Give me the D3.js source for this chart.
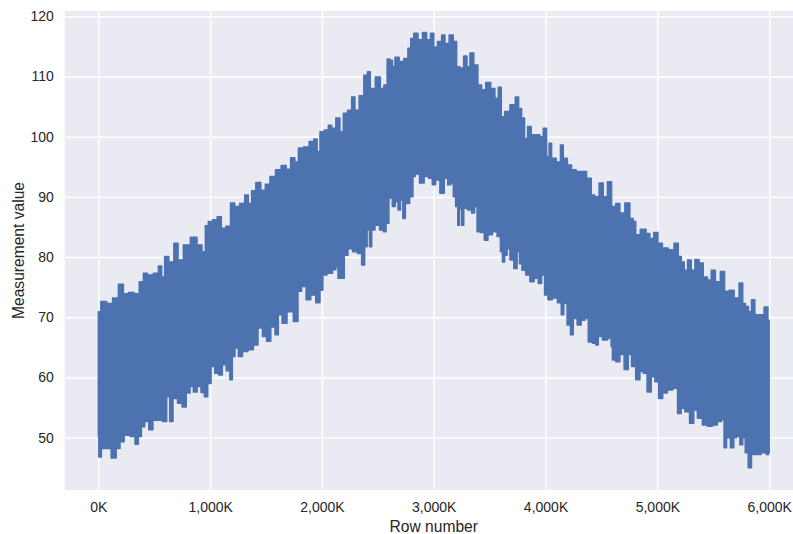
<!DOCTYPE html>
<html>
<head>
<meta charset="utf-8">
<script src="https://cdn.jsdelivr.net/npm/d3@7"></script>
<style>
  html, body { margin: 0; padding: 0; background: #fff; }
  svg { display: block; font-family: "Liberation Sans", Arial, sans-serif; }
</style>
</head>
<body>
<svg id="chart" width="793" height="534"></svg>
<script>
const upperRows = [0, 45, 105, 150, 209, 239, 299, 343, 388, 418, 462, 522, 552, 581, 605, 656, 695, 731, 790, 856,
  909, 945, 969, 999, 1043, 1082, 1118, 1162, 1202, 1237, 1291, 1327, 1356, 1386, 1431, 1476, 1511, 1559, 1610, 1660,
  1700, 1740, 1775, 1804, 1863, 1908, 1947, 1967, 1998, 2042, 2072, 2102, 2146, 2176, 2206, 2251, 2280, 2310, 2355, 2394,
  2420, 2445, 2510, 2535, 2573, 2593, 2623, 2638, 2668, 2713, 2751, 2787, 2802, 2841, 2877, 2921, 2951, 2990, 3011, 3056,
  3085, 3115, 3160, 3190, 3219, 3249, 3285, 3309, 3339, 3377, 3413, 3443, 3487, 3532, 3562, 3592, 3616, 3652, 3711, 3747,
  3771, 3800, 3824, 3854, 3890, 3934, 3965, 3994, 4024, 4039, 4069, 4122, 4144, 4173, 4218, 4248, 4300, 4337, 4397, 4421,
  4457, 4501, 4531, 4576, 4605, 4650, 4680, 4739, 4769, 4799, 4814, 4880, 4918, 4948, 4987, 5023, 5067, 5127, 5172, 5202,
  5226, 5255, 5285, 5321, 5351, 5396, 5425, 5470, 5494, 5544, 5583, 5619, 5664, 5709, 5753, 5774, 5803, 5827, 5857, 5887,
  5932, 5977, 6000];
const upperVals = [70.9, 72.6, 72.3, 73.2, 75.5, 73.9, 74.1, 73.9, 75.9, 77.3, 77.0, 77.3, 78.5, 76.7, 80.1, 79.2, 82.3, 79.5, 82.0, 83.3,
  82.0, 80.9, 85.2, 85.9, 86.2, 86.7, 84.8, 85.1, 89.0, 88.4, 88.9, 90.3, 88.9, 91.0, 92.4, 91.1, 92.1, 93.4, 94.5, 95.2,
  94.6, 96.5, 95.8, 98.1, 98.3, 99.2, 99.6, 97.5, 100.8, 101.1, 101.9, 101.4, 103.1, 100.8, 103.9, 104.4, 106.6, 104.4, 106.8, 110.2,
  110.8, 108.0, 109.9, 108.0, 108.6, 112.9, 112.7, 111.6, 113.2, 112.5, 113.0, 114.7, 116.3, 117.2, 116.1, 117.3, 116.1, 117.2, 114.9, 115.8,
  116.9, 115.5, 116.9, 115.8, 111.6, 111.4, 113.4, 111.6, 113.9, 111.9, 108.6, 107.8, 109.0, 108.0, 106.4, 108.2, 103.3, 104.2, 105.3, 106.6,
  104.7, 103.1, 99.7, 101.7, 100.3, 100.3, 100.0, 101.4, 96.7, 98.9, 96.4, 95.8, 98.6, 96.4, 95.3, 94.5, 94.2, 94.2, 93.1, 90.3,
  90.0, 92.3, 90.0, 92.5, 88.4, 88.9, 87.3, 89.0, 86.4, 85.9, 83.7, 84.6, 83.9, 83.1, 84.1, 82.3, 81.5, 81.2, 82.3, 80.1,
  79.2, 77.8, 79.5, 77.8, 79.6, 79.0, 76.7, 76.2, 77.8, 75.9, 77.6, 74.3, 74.5, 73.2, 75.7, 72.3, 71.8, 70.9, 72.9, 70.4,
  70.4, 71.7, 69.5];

const lowerRows = [0, 9, 45, 89, 140, 179, 209, 254, 313, 343, 373, 397, 433, 469, 507, 552, 597, 626, 650, 686,
  731, 767, 805, 835, 865, 903, 934, 963, 993, 1023, 1059, 1094, 1124, 1162, 1190, 1207, 1237, 1267, 1312, 1363,
  1410, 1446, 1490, 1520, 1565, 1595, 1625, 1661, 1714, 1774, 1797, 1839, 1878, 1922, 1967, 1998, 2018, 2072, 2117, 2132,
  2155, 2185, 2215, 2251, 2296, 2340, 2370, 2394, 2414, 2436, 2454, 2495, 2535, 2563, 2584, 2614, 2644, 2668, 2692, 2713,
  2734, 2758, 2811, 2817, 2853, 2892, 2937, 2972, 3002, 3031, 3079, 3109, 3139, 3169, 3181, 3210, 3219, 3240, 3258, 3279,
  3324, 3353, 3377, 3398, 3437, 3467, 3503, 3547, 3586, 3607, 3622, 3646, 3666, 3697, 3735, 3756, 3777, 3800, 3845, 3875,
  3920, 3950, 3979, 4003, 4039, 4084, 4128, 4153, 4173, 4212, 4233, 4263, 4302, 4337, 4367, 4397, 4442, 4457, 4486, 4531,
  4582, 4591, 4605, 4650, 4680, 4725, 4754, 4784, 4829, 4859, 4889, 4927, 4963, 4993, 5029, 5067, 5112, 5166, 5195, 5231,
  5261, 5315, 5336, 5380, 5425, 5470, 5514, 5559, 5589, 5604, 5634, 5673, 5694, 5723, 5753, 5774, 5798, 5827, 5857, 5902,
  5953, 5991, 6000];
const lowerVals = [50.2, 46.8, 48.2, 48.2, 46.6, 48.2, 49.3, 50.4, 50.2, 48.9, 50.2, 51.8, 52.7, 51.3, 52.9, 52.9, 52.7, 56.8, 52.7, 56.5,
  55.7, 55.1, 57.4, 58.5, 57.6, 58.5, 57.5, 56.8, 59.0, 61.8, 60.7, 60.4, 62.1, 61.1, 59.6, 63.5, 64.9, 63.5, 64.3, 64.6,
  65.4, 68.2, 66.8, 66.0, 68.4, 67.1, 70.4, 69.0, 70.9, 69.3, 74.3, 75.1, 72.9, 73.7, 72.4, 74.5, 77.0, 77.3, 77.9, 78.4,
  76.5, 76.5, 80.3, 81.4, 80.9, 80.6, 78.7, 81.7, 84.5, 81.7, 84.5, 85.3, 84.5, 84.2, 85.6, 89.8, 88.4, 89.2, 87.8, 89.5,
  86.4, 88.9, 90.0, 93.4, 93.8, 92.3, 93.4, 93.1, 92.0, 92.8, 90.6, 93.1, 92.0, 92.3, 90.0, 88.4, 85.3, 88.0, 85.3, 88.1,
  87.8, 87.3, 88.4, 84.2, 84.1, 82.8, 83.7, 84.2, 83.4, 80.9, 79.2, 80.3, 81.4, 79.5, 78.1, 80.9, 78.9, 77.8, 77.0, 75.9,
  76.5, 75.6, 77.0, 73.7, 72.9, 73.2, 72.4, 70.4, 72.3, 68.7, 67.1, 69.8, 68.7, 69.5, 69.8, 65.9, 65.7, 65.4, 66.8, 66.2,
  66.5, 65.1, 62.9, 62.6, 63.8, 61.3, 63.8, 61.8, 59.6, 61.0, 60.7, 57.6, 60.1, 59.3, 56.5, 57.4, 57.9, 58.2, 54.0, 54.9,
  54.3, 52.4, 54.6, 53.2, 52.1, 51.9, 52.1, 52.7, 53.0, 48.3, 50.0, 48.3, 50.0, 50.2, 48.8, 50.0, 47.5, 45.0, 47.2, 47.2,
  47.5, 47.2, 47.5];

const xTicks = [0, 1000, 2000, 3000, 4000, 5000, 6000];
const yTicks = [50, 60, 70, 80, 90, 100, 110, 120];

// ---- Layout ----
const W = 793, H = 534;
const plot = { left: 64.8, top: 11, right: 802.7, bottom: 490 };
const svg = d3.select("#chart");

const x = d3.scaleLinear().domain([-300, 6300]).range([plot.left, plot.right]);
const y = d3.scaleLinear().domain([41.3, 120.88]).range([plot.bottom, plot.top]);

// background
svg.append("rect")
  .attr("x", plot.left).attr("y", plot.top)
  .attr("width", plot.right - plot.left).attr("height", plot.bottom - plot.top)
  .attr("fill", "#EAEAF2");

// ---- Grid ----
svg.append("g")
  .attr("transform", `translate(0,${plot.bottom})`)
  .call(d3.axisBottom(x).tickValues(xTicks).tickSize(-(plot.bottom - plot.top)).tickFormat(""))
  .call(g => g.select(".domain").remove())
  .call(g => g.selectAll("line").attr("stroke", "#fff").attr("stroke-width", 1.4));

svg.append("g")
  .attr("transform", `translate(${plot.left},0)`)
  .call(d3.axisLeft(y).tickValues(yTicks).tickSize(-(plot.right - plot.left)).tickFormat(""))
  .call(g => g.select(".domain").remove())
  .call(g => g.selectAll("line").attr("stroke", "#fff").attr("stroke-width", 1.4));

// ---- Band: upper envelope left→right, lower envelope back right→left ----
const pts = upperRows.map((r, i) => [r, upperVals[i]])
  .concat(lowerRows.map((r, i) => [r, lowerVals[i]]).reverse());

const band = d3.line()
  .x(d => x(d[0]))
  .y(d => y(d[1]))
  .curve(d3.curveStep);

svg.append("path")
  .attr("d", band(pts) + "Z")
  .attr("fill", "#4C72B0")
  .attr("stroke", "#4C72B0")
  .attr("stroke-width", 1.5)
  .attr("stroke-linejoin", "round");

// ---- Axes labels ----
svg.append("g")
  .attr("transform", `translate(0,${plot.bottom})`)
  .call(d3.axisBottom(x).tickValues(xTicks).tickSize(0).tickPadding(12)
    .tickFormat(d => d3.format(",")(d) + "K"))
  .call(g => g.select(".domain").remove())
  .call(g => g.selectAll("text").attr("fill", "#262626").style("font-size", "14px"));

svg.append("g")
  .attr("transform", `translate(${plot.left},0)`)
  .call(d3.axisLeft(y).tickValues(yTicks).tickSize(0).tickPadding(11))
  .call(g => g.select(".domain").remove())
  .call(g => g.selectAll("text").attr("fill", "#262626").style("font-size", "14px"));

svg.append("text")
  .attr("x", x(3000))
  .attr("y", 531.5)
  .attr("text-anchor", "middle")
  .attr("fill", "#262626")
  .style("font-size", "15.6px")
  .text("Row number");

svg.append("text")
  .attr("transform", `translate(23.5,${(plot.top + plot.bottom) / 2}) rotate(-90)`)
  .attr("text-anchor", "middle")
  .attr("fill", "#262626")
  .style("font-size", "15.6px")
  .text("Measurement value");
</script>
</body>
</html>
